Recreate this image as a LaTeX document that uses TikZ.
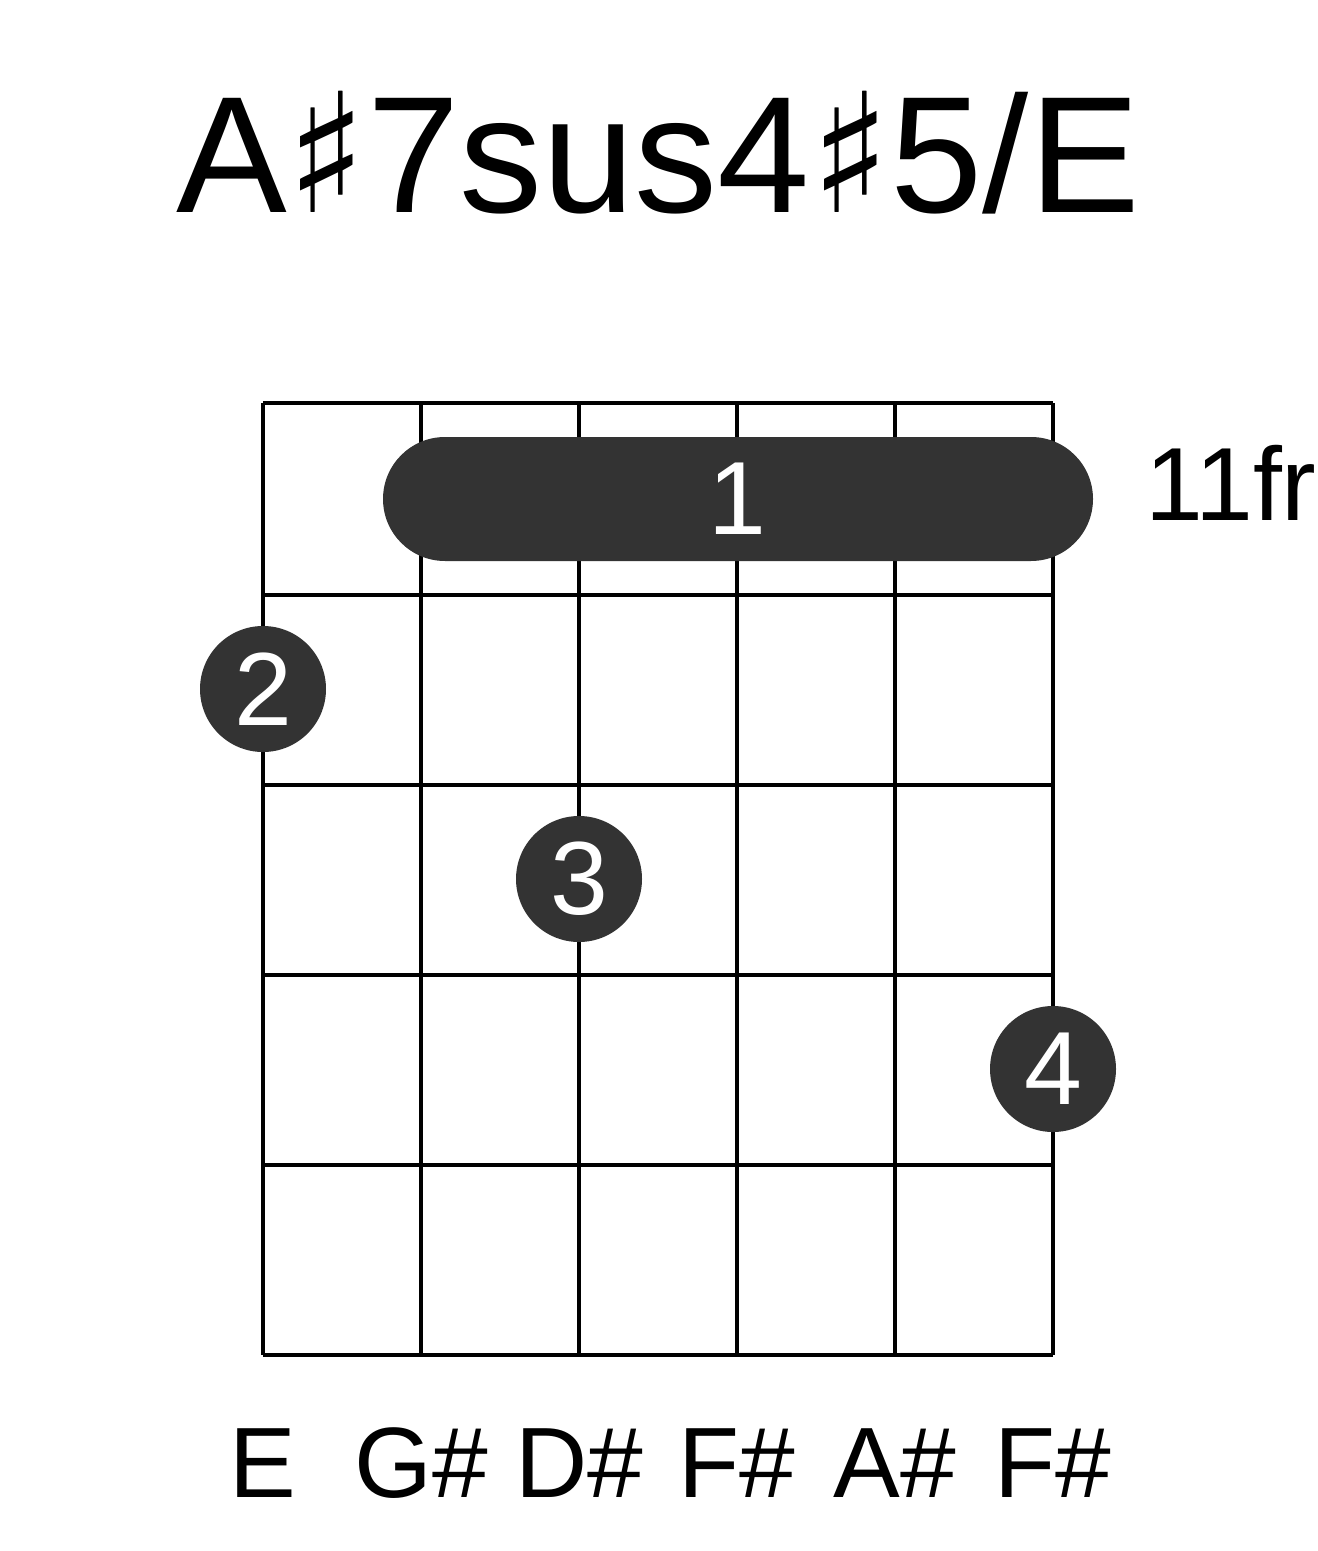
\documentclass[tikz,border=0pt]{standalone}
\usepackage{fontspec}
\setmainfont{Liberation Sans}
\newfontfamily\symfont{DejaVu Sans}
\definecolor{dotgray}{HTML}{333333}
\begin{document}
\begin{tikzpicture}[x=0.5pt, y=-0.5pt,
        fret/.style={line width=2pt},
        finger/.style={circle, fill=dotgray, minimum size=63pt, inner sep=0pt, text=white, font=\fontsize{52}{52}\selectfont},
        notelabel/.style={anchor=base, font=\fontsize{50}{50}\selectfont}
    ]
    \useasboundingbox (0,0) rectangle (1317,1551);

    % Title
    \node[anchor=base] (title) at (658,213) {\fontsize{83}{83}\selectfont A{\symfont ♯}7sus4{\symfont ♯}5/E};

    % Grid
    \foreach \y in {403,595,785,975,1165,1355}
        \draw[fret] (263,\y) -- (1053,\y);
    \foreach \x in {263,421,579,737,895,1053}
        \draw[fret] (\x,403) -- (\x,1355);

    % Barre
    \fill[dotgray, rounded corners=31pt] (383,437) rectangle (1093,561);
    \node[text=white, font=\fontsize{52}{52}\selectfont] (barre) at (737,499) {1};
    \node[anchor=base west, font=\fontsize{52}{52}\selectfont] (fretno) at (1138,520) {11fr};

    % Fingers
    \node[finger] (f2) at (263,689) {2};
    \node[finger] (f3) at (579,879) {3};
    \node[finger] (f4) at (1053,1069) {4};

    % Notes
    \foreach \x/\n [count=\i] in {263/E,421/G\#,579/D\#,737/F\#,895/A\#,1053/F\#}
        \node[notelabel] (note\i) at (\x,1497) {\n};
\end{tikzpicture}
\end{document}
